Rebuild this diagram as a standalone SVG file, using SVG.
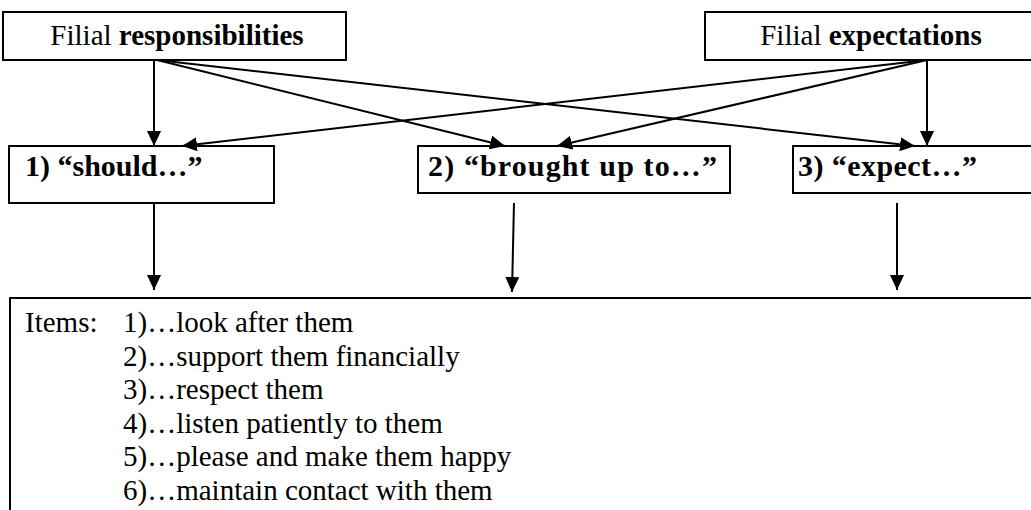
<svg xmlns="http://www.w3.org/2000/svg" width="1031" height="510" viewBox="0 0 1031 510">
<style>
.box{fill:#fff;stroke:#000;stroke-width:2}
.t{font-family:"Liberation Serif","Times New Roman",serif;font-size:29px;fill:#000}
.b{font-weight:bold}
.l{font-size:30px}
.c line{stroke:#000;stroke-width:2;marker-end:url(#ah)}
</style>
<defs>
<marker id="ah" markerUnits="userSpaceOnUse" markerWidth="16" markerHeight="14" refX="15" refY="7" orient="auto">
<path d="M0,0 L15,7 L0,14 z" fill="#000"/>
</marker>
</defs>
<rect width="1031" height="510" fill="#fff"/>
<g id="resp">
<rect class="box" x="3" y="12" width="343" height="48"/>
<text class="t" x="177" y="45" text-anchor="middle">Filial <tspan class="b">responsibilities</tspan></text>
</g>
<g id="expect">
<rect class="box" x="705" y="12" width="340" height="48"/>
<text class="t" x="871" y="45" text-anchor="middle">Filial <tspan class="b">expectations</tspan></text>
</g>
<g id="should">
<rect class="box" x="9" y="146" width="265" height="57"/>
<text class="t b l" x="25" y="176">1) “should…”</text>
</g>
<g id="brought">
<rect class="box" x="418" y="146" width="312" height="47"/>
<text class="t b l" x="428" y="176" textLength="289">2) “brought up to…”</text>
</g>
<g id="expectbox">
<rect class="box" x="793" y="146" width="250" height="47"/>
<text class="t b l" x="798" y="176" textLength="179">3) “expect…”</text>
</g>
<g id="items">
<rect class="box" x="10" y="298" width="1040" height="300"/>
<text class="t" x="25" y="332">Items:</text>
<text class="t" x="123" y="332">1)…look after them</text>
<text class="t" x="123" y="365.5">2)…support them financially</text>
<text class="t" x="123" y="399">3)…respect them</text>
<text class="t" x="123" y="432.5">4)…listen patiently to them</text>
<text class="t" x="123" y="466">5)…please and make them happy</text>
<text class="t" x="123" y="499.5">6)…maintain contact with them</text>
</g>
<g id="connectors" class="c">
<line x1="154" y1="60" x2="154" y2="146"/>
<line x1="157" y1="60" x2="505" y2="146"/>
<line x1="157" y1="60" x2="915" y2="146"/>
<line x1="927" y1="60" x2="927" y2="146"/>
<line x1="927" y1="60" x2="557" y2="146"/>
<line x1="927" y1="60" x2="182" y2="146"/>
<line x1="154" y1="203" x2="154" y2="290"/>
<line x1="514" y1="203" x2="512" y2="292"/>
<line x1="897" y1="203" x2="897" y2="290"/>
</g>
</svg>
